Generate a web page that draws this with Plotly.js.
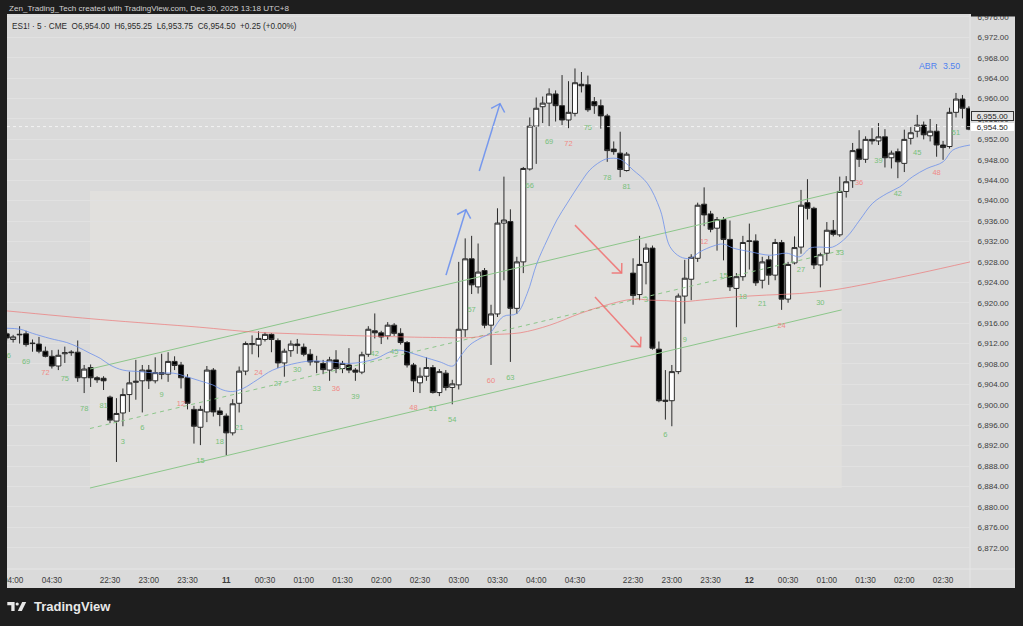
<!DOCTYPE html>
<html><head><meta charset="utf-8">
<script src="https://cdn.plot.ly/plotly-3.0.1.min.js"></script>
<style>html,body{margin:0;padding:0;background:#1e1e1e;overflow:hidden}#chart{width:1023px;height:626px}</style>
</head><body><div id="chart"></div>
<script>
// ---------- DATA (ES1! 5-minute bars, RTH sessions, UTC+8) ----------
// first bar in the arrays is 03:55 of the prior session (bar index -16)
const firstBar = -16;
const openP = [
 6913.9,6912.8,6913.7,6913.9,6912.1,6911.9,6910.5,6909.5,6907.6,6910.0,6910.2,6910.3,6905.3,6907.3,6905.3,6905.2,
 6901.5,6896.8,6898.4,6902.0,6904.4,6904.7,6906.8,6904.7,6906.3,6906.0,
 6908.5,6907.8,6905.3,6899.1,6895.6,6898.6,6906.8,6898.8,6897.8,6894.5,
 6900.3,6906.6,6911.8,6911.7,6912.8,6913.8,6912.6,6908.2,6910.6,6911.9,
 6911.3,6909.9,6908.5,6908.1,6906.8,6908.8,6907.1,6907.8,6906.8,6906.4,
 6909.9,6914.5,6914.1,6913.5,6915.6,6914.0,6912.2,6907.8,6904.3,6905.6,
 6907.3,6902.4,6906.2,6903.4,6903.9,6914.7,6928.6,6923.1,6926.3,6915.6,
 6917.8,6935.6,6935.9,6918.9,6928.0,6946.2,6954.6,6958.4,6959.1,6960.9,
 6958.6,6955.8,6957.1,6962.8,6962.7,6959.4,6958.6,6956.6,6950.1,6949.3,
 6945.9,
 6925.8,6921.6,6927.9,6930.7,6910.9,6900.9,6900.8,6906.5,6921.3,6924.6,
 6928.7,6939.3,6937.4,6934.6,6936.3,6932.4,6922.8,6925.1,6932.0,6932.1,
 6924.4,6928.4,6925.4,6931.8,6920.7,6927.8,6930.9,6939.6,6938.5,6927.4,
 6929.7,6934.2,6933.3,6941.8,6943.9,6950.1,6948.1,6952.0,6951.7,6952.5,
 6948.4,6949.6,6947.3,6952.2,6953.6,6954.8,6952.7,6953.6,6950.9,6950.6,
 6957.3,6959.9,6958.1,6954.0];
const highP = [
 6914.3,6913.7,6915.4,6914.5,6912.8,6913.3,6911.4,6910.7,6910.8,6911.4,6910.7,6912.6,6907.8,6907.9,6905.6,6905.6,
 6901.8,6901.3,6903.2,6906.5,6908.8,6907.8,6907.8,6909.3,6910.0,6910.3,
 6909.5,6908.4,6906.0,6899.8,6899.8,6907.6,6907.2,6899.5,6898.3,6901.1,
 6907.5,6912.4,6913.6,6914.4,6914.2,6914.0,6913.0,6911.0,6912.6,6912.9,
 6912.0,6910.9,6909.6,6908.8,6909.4,6910.7,6908.6,6911.1,6907.2,6910.4,
 6915.4,6917.9,6914.5,6916.2,6916.0,6915.0,6912.5,6908.2,6907.3,6909.3,
 6907.8,6907.0,6906.8,6904.9,6928.0,6932.6,6933.1,6931.6,6926.8,6919.6,
 6938.5,6944.7,6938.3,6929.0,6946.6,6956.3,6960.2,6960.4,6962.0,6961.6,
 6964.6,6963.4,6965.9,6965.2,6964.5,6960.3,6959.8,6957.0,6951.6,6953.5,
 6949.5,
 6928.7,6933.1,6931.6,6931.2,6912.4,6906.8,6907.8,6921.8,6928.4,6929.5,
 6939.6,6942.6,6938.0,6936.8,6936.8,6936.1,6925.8,6933.1,6935.5,6933.4,
 6929.0,6929.2,6932.5,6932.3,6928.0,6933.0,6942.1,6944.2,6938.8,6929.8,
 6935.8,6936.2,6944.7,6944.8,6951.3,6953.8,6952.6,6954.2,6955.2,6954.0,
 6949.8,6950.2,6953.9,6954.4,6956.8,6955.5,6956.0,6955.0,6951.7,6958.2,
 6961.1,6960.7,6958.5,6955.25];
const lowP = [
 6912.6,6912.2,6912.0,6911.4,6910.4,6910.1,6909.3,6907.1,6906.8,6908.2,6909.6,6904.5,6902.3,6903.5,6904.3,6902.9,
 6896.4,6888.8,6895.8,6898.6,6901.0,6898.5,6903.1,6904.2,6905.0,6904.5,
 6906.8,6903.2,6899.1,6892.4,6892.1,6896.6,6897.7,6895.8,6890.1,6894.0,
 6898.5,6905.8,6909.9,6909.3,6912.4,6910.3,6907.2,6905.5,6909.4,6910.0,
 6909.5,6907.7,6906.2,6906.0,6904.7,6906.2,6906.2,6906.2,6904.7,6906.0,
 6909.4,6913.0,6911.9,6912.8,6913.5,6911.8,6907.3,6902.5,6902.3,6904.7,
 6902.2,6901.7,6902.8,6900.1,6903.0,6913.3,6921.7,6921.8,6915.0,6907.8,
 6917.2,6924.4,6908.4,6917.8,6925.8,6945.9,6947.2,6955.2,6954.5,6955.5,
 6954.8,6954.2,6956.5,6961.2,6957.4,6957.0,6954.1,6947.6,6949.0,6944.6,
 6945.7,
 6919.6,6920.5,6923.6,6910.8,6900.5,6897.1,6895.8,6906.0,6915.9,6920.5,
 6928.0,6935.0,6933.8,6930.2,6928.3,6922.3,6915.2,6924.3,6926.5,6923.3,
 6922.8,6923.5,6924.4,6918.6,6920.0,6927.5,6929.6,6936.3,6926.6,6923.0,
 6928.2,6933.0,6932.9,6940.6,6942.5,6946.6,6947.4,6951.0,6950.9,6946.5,
 6946.3,6944.4,6945.6,6951.0,6952.4,6952.0,6951.6,6948.6,6948.0,6950.2,
 6956.3,6956.1,6953.8,6953.75];
const closeP = [
 6913.1,6913.3,6913.8,6911.8,6912.0,6910.5,6909.5,6907.6,6909.7,6910.2,6910.3,6905.3,6907.0,6905.3,6904.9,6904.7,
 6897.0,6898.3,6902.0,6904.3,6904.6,6906.8,6904.7,6906.3,6906.0,6908.5,
 6907.7,6905.3,6900.3,6895.8,6899.1,6906.8,6898.6,6898.1,6894.5,6900.2,
 6906.6,6912.0,6912.0,6913.0,6913.8,6912.8,6908.2,6910.5,6911.9,6911.6,
 6909.9,6908.4,6908.4,6906.9,6908.8,6907.1,6908.1,6906.8,6906.4,6909.8,
 6914.8,6914.1,6913.3,6915.6,6914.0,6912.2,6907.8,6904.7,6905.6,6907.3,
 6902.4,6906.5,6903.4,6904.1,6914.8,6928.6,6923.5,6926.0,6915.6,6917.8,
 6935.6,6936.2,6918.9,6928.0,6946.3,6954.6,6958.1,6959.1,6960.9,6958.6,
 6955.8,6957.3,6963.1,6962.5,6957.8,6958.6,6956.6,6949.8,6949.6,6946.1,
 6949.1,
 6921.4,6927.5,6930.7,6911.1,6900.8,6900.7,6906.5,6921.3,6924.8,6928.9,
 6939.1,6937.2,6934.4,6936.3,6932.4,6923.1,6925.1,6931.8,6932.1,6923.9,
 6928.0,6925.4,6931.8,6920.7,6927.5,6930.8,6939.1,6938.5,6927.4,6929.4,
 6934.2,6933.4,6941.8,6943.7,6949.8,6948.1,6952.0,6951.7,6952.5,6948.4,
 6949.3,6947.6,6952.0,6953.3,6954.8,6952.9,6953.6,6950.9,6950.4,6957.3,
 6959.9,6958.1,6954.0,6954.5];

// bar-number labels (bar index, text)
const labelBar  = [-16,-13,-10,-7,-4,-1,
 2,5,8,11,14,17,20,23,26,29,32,35,38,41,44,47,50,53,56,59,62,65,68,71,74,77,80,
 83,86,89,92,95,98,101,104,107,110,113,116,119,122,125,128,131];
const labelText = ['66','69','72','75','78','81',
 '3','6','9','12','15','18','21','24','27','30','33','36','39','42','45','48','51','54','57','60','63','66','69','72','75','78','81',
 '3','6','9','12','15','18','21','24','27','30','33','36','39','42','45','48','51'];

// blue moving average (bar index, price)
const emaIdx = [-16,-13.9,-12,-9.3,-6.7,-5.1,-3.1,-1.5,0,2,4.6,7.3,9.8,11.9,13.9,15.9,17.5,19,20.6,22.8,25.2,29,31.4,34.1,36.7,39.2,41.3,43.4,44.9,46,48.5,51.1,53.1,54.2,55.7,57.3,58.8,60.9,63,64.6,66.1,67.7,69.2,70.8,72.8,74.3,75.9,77,79,81,83.2,85.2,86.7,88.3,89.8,91.4,93.4,94.9,96.5,99.1,102.2,104.8,106.8,108.4,109.9,111.9,114.1,116.1,118.1,120.3,122.3,124.3,126.5,129,130.5,133.2];
const emaVal = [6915.0,6914.8,6914.0,6913.0,6912.2,6911.4,6910.1,6909.1,6907.8,6906.8,6906.5,6906.2,6906.2,6905.5,6904.7,6903.9,6902.9,6902.6,6903.2,6904.9,6906.8,6908.2,6908.6,6908.4,6908.1,6908.4,6909.1,6910.4,6910.7,6910.4,6909.4,6908.4,6907.6,6909.4,6911.7,6913.0,6914.0,6917.3,6917.9,6921.8,6927.7,6932.3,6936.2,6939.5,6943.4,6946.0,6947.6,6948.2,6948.1,6946.0,6943.4,6938.2,6931.0,6929.0,6928.7,6930.0,6931.1,6931.5,6930.7,6930.0,6929.3,6929.7,6929.0,6930.7,6930.9,6930.9,6932.9,6936.2,6939.5,6941.4,6942.7,6944.7,6946.3,6947.6,6949.9,6950.9];

// red slow average (bar index, price)
const redIdx = [-16,-1.5,13.9,21.7,29,39.2,49.6,56.2,58.8,63.5,68.1,72.8,77,81,83.6,86.2,88.7,91.4,96.5,101.7,106.8,112,117.7,125.4,133.2];
const redVal = [6918.4,6916.7,6915.2,6914.3,6913.9,6913.5,6913.2,6913.2,6913.7,6914.1,6915.6,6917.9,6919.6,6920.7,6920.5,6920.4,6920.2,6920.5,6921.1,6921.5,6921.8,6922.5,6923.8,6925.8,6928.0];

// parallel channel (start/end bar index, prices)
const chanIdx   = [-3.1, 113.3];
const chanUpper = [6907.0, 6941.9];
const chanMid   = [6895.35, 6930.25];
const chanLower = [6883.7, 6918.6];

// drawn arrows [x0, y0, x1, y1]
const blueArrows = [[52.03,6925.4,55.12,6938.2],[57.18,6945.8,60.39,6959.0]];
const redArrows  = [[72.0,6935.2,79.23,6925.8],[75.1,6921.1,82.15,6911.4]];

// time axis
const tickIdx  = [-15,-9,0,6,12,18,24,30,36,42,48,54,60,66,72,81,87,93,99,105,111,117,123,129];
const tickText = ['04:00','04:30','22:30','23:00','23:30','<b>11</b>','00:30','01:00','01:30','02:00','02:30','03:00','03:30','04:00','04:30','22:30','23:00','23:30','<b>12</b>','00:30','01:00','01:30','02:00','02:30'];

const lastPrice = 6954.5;

// ---------- LAYOUT GEOMETRY ----------
const W=1023, H=626, L=7, R=970, T=14, B=569;
const xRange=[-15.95,133.17], yRange=[6867.83,6976.565];
const pxX=(R-L)/(xRange[1]-xRange[0]), pxY=(B-T)/(yRange[1]-yRange[0]);
const px=(v)=>(v-L)/(R-L), py=(v)=>(B-v)/(B-T);
const FONT='Liberation Sans, Arial, sans-serif';

const xs = openP.map((_,k)=>firstBar+k);

const traces = [];
// candles
traces.push({type:'candlestick',x:xs,open:openP,high:highP,low:lowP,close:closeP,
  increasing:{fillcolor:'#ffffff',line:{color:'#2a2a2a',width:1}},
  decreasing:{fillcolor:'#000000',line:{color:'#2a2a2a',width:1}},
  whiskerwidth:0,hoverinfo:'skip'});
traces.push({type:'scatter',mode:'lines',x:chanIdx,y:chanUpper,line:{color:'#8cc68a',width:1},hoverinfo:'skip'});
traces.push({type:'scatter',mode:'lines',x:chanIdx,y:chanLower,line:{color:'#8cc68a',width:1},hoverinfo:'skip'});
traces.push({type:'scatter',mode:'lines',x:chanIdx,y:chanMid,line:{color:'#8cc68a',width:1,dash:'4px,4px'},hoverinfo:'skip'});
traces.push({type:'scatter',mode:'lines',x:redIdx,y:redVal,line:{color:'rgba(236,120,120,0.7)',width:1,shape:'spline'},hoverinfo:'skip'});
traces.push({type:'scatter',mode:'lines',x:emaIdx,y:emaVal,line:{color:'rgba(110,145,235,0.8)',width:1,shape:'spline'},hoverinfo:'skip'});
// bar-number labels
const lowAt=(b)=>lowP[b-firstBar];
traces.push({type:'scatter',mode:'text',x:labelBar,y:labelBar.map(b=>lowAt(b)-16/pxY),
  text:labelText,textposition:'middle center',cliponaxis:true,
  textfont:{family:FONT,size:7.5,color:labelText.map(t=>(+t)%12===0?'#f08a86':'#78c07a')},hoverinfo:'skip'});
// arrows
function arrow(a,color){
  const [x0,y0,x1,y1]=a;
  const dx=(x1-x0)*pxX, dy=-(y1-y0)*pxY, len=Math.hypot(dx,dy), ux=dx/len, uy=dy/len;
  const hl=10, ang=Math.PI/4;
  const barb=(s)=>{const c=Math.cos(s*ang),sn=Math.sin(s*ang);
    const bx=-(ux*c-uy*sn)*hl, by=-(ux*sn+uy*c)*hl; return [x1+bx/pxX, y1-by/pxY];};
  const b1=barb(1), b2=barb(-1);
  return {type:'scatter',mode:'lines',x:[x0,x1,null,b1[0],x1,b2[0]],y:[y0,y1,null,b1[1],y1,b2[1]],
    line:{color,width:1.5},hoverinfo:'skip'};
}
blueArrows.forEach(a=>traces.push(arrow(a,'rgba(100,140,240,0.85)')));
redArrows.forEach(a=>traces.push(arrow(a,'rgba(240,110,110,0.85)')));

const yTicks=[]; for(let v=6872; v<=6976; v+=4) yTicks.push(v);

const shapes=[
  // channel background (behind candles)
  {type:'rect',xref:'x',yref:'y',x0:chanIdx[0],x1:chanIdx[1],y0:chanLower[0],y1:chanUpper[1],
   fillcolor:'rgba(238,236,228,0.32)',line:{width:0},layer:'below'},
  // axis strips
  {type:'rect',xref:'paper',yref:'paper',x0:px(R),x1:px(1015),y0:py(588),y1:py(T),fillcolor:'#dadada',line:{width:0},layer:'below'},
  {type:'rect',xref:'paper',yref:'paper',x0:px(L),x1:px(1015),y0:py(588),y1:py(B),fillcolor:'#dadada',line:{width:0},layer:'below'},
  {type:'line',xref:'paper',yref:'paper',x0:px(R),x1:px(R),y0:py(588),y1:py(T),line:{color:'#e6e6e6',width:1},layer:'below'},
  {type:'line',xref:'paper',yref:'paper',x0:px(L),x1:px(1015),y0:py(B),y1:py(B),line:{color:'#e6e6e6',width:1},layer:'below'},
  // last price dotted line
  {type:'line',xref:'paper',yref:'y',x0:0,x1:1,y0:lastPrice,y1:lastPrice,line:{color:'rgba(255,255,255,0.7)',width:1,dash:'dot'},layer:'above'},
  // dark frame
  {type:'rect',xref:'paper',yref:'paper',x0:px(0),x1:px(W),y0:py(T),y1:py(0),fillcolor:'#1e1e1e',line:{width:0},layer:'above'},
  {type:'rect',xref:'paper',yref:'paper',x0:px(R+1),x1:px(1015),y0:py(16.5),y1:py(T),fillcolor:'#1e1e1e',line:{width:0},layer:'above'},
  {type:'rect',xref:'paper',yref:'paper',x0:px(0),x1:px(L),y0:py(H),y1:py(0),fillcolor:'#1e1e1e',line:{width:0},layer:'above'},
  // TradingView logo
  {type:'path',xref:'paper',yref:'paper',path:`M${px(7.3)},${py(602)} L${px(14.6)},${py(602)} L${px(14.6)},${py(611)} L${px(11.3)},${py(611)} L${px(11.3)},${py(605.3)} L${px(7.3)},${py(605.3)} Z`,fillcolor:'#e8e8e8',line:{width:0},layer:'above'},
  {type:'circle',xref:'paper',yref:'paper',x0:px(15.6),x1:px(18.8),y0:py(605.6),y1:py(602.4),fillcolor:'#e8e8e8',line:{width:0},layer:'above'},
  {type:'path',xref:'paper',yref:'paper',path:`M${px(22.2)},${py(602)} L${px(26.2)},${py(602)} L${px(21.8)},${py(611)} L${px(17.8)},${py(611)} Z`,fillcolor:'#e8e8e8',line:{width:0},layer:'above'}
];

const annotations=[
  {xref:'paper',yref:'paper',x:px(7),y:py(8.5),xanchor:'left',yanchor:'middle',showarrow:false,
   text:'Zen_Trading_Tech created with TradingView.com, Dec 30, 2025 13:18 UTC+8',font:{family:FONT,size:8.1,color:'#d2d2d2'}},
  {xref:'paper',yref:'paper',x:px(10),y:py(27),xanchor:'left',yanchor:'middle',showarrow:false,
   text:'ES1! · 5 · CME\u00a0\u00a0O6,954.00\u00a0\u00a0H6,955.25\u00a0\u00a0L6,953.75\u00a0\u00a0C6,954.50\u00a0\u00a0+0.25 (+0.00%)',font:{family:FONT,size:8.2,color:'#2a2a2a'}},
  {xref:'paper',yref:'paper',x:px(917),y:py(66),xanchor:'left',yanchor:'middle',showarrow:false,
   text:'ABR',font:{family:FONT,size:8.8,color:'#4f82ef'}},
  {xref:'paper',yref:'paper',x:px(941),y:py(66),xanchor:'left',yanchor:'middle',showarrow:false,
   text:'3.50',font:{family:FONT,size:8.8,color:'#4f82ef'}},
  {xref:'paper',yref:'y',x:px(992),y:lastPrice,yshift:11,xanchor:'center',yanchor:'middle',showarrow:false,
   text:'6,955.00',font:{family:FONT,size:8,color:'#222'},bgcolor:'#e2e2e2',bordercolor:'#333',borderwidth:1,borderpad:0,width:41,height:8},
  {xref:'paper',yref:'y',x:px(992),y:lastPrice,yshift:-0.5,xanchor:'center',yanchor:'middle',showarrow:false,
   text:'6,954.50',font:{family:FONT,size:8,color:'#222'},bgcolor:'#ffffff',borderwidth:0,borderpad:0,width:43,height:8},
  {xref:'paper',yref:'paper',x:px(32),y:py(606.5),xanchor:'left',yanchor:'middle',showarrow:false,
   text:'<b>TradingView</b>',font:{family:FONT,size:13,color:'#e8e8e8'}}
];

const layout={
  width:W,height:H,margin:{l:L,r:W-R,t:T,b:H-B,pad:0},
  paper_bgcolor:'#1e1e1e',plot_bgcolor:'#dadada',showlegend:false,
  boxgap:0.12,boxgroupgap:0.12,
  xaxis:{range:xRange,tickmode:'array',tickvals:tickIdx,ticktext:tickText,showgrid:false,zeroline:false,
    ticks:'outside',ticklen:3,tickcolor:'rgba(0,0,0,0)',tickfont:{family:FONT,size:8.2,color:'#3c3c3c'},
    showline:false,rangeslider:{visible:false},fixedrange:true,tickangle:0},
  yaxis:{side:'right',range:yRange,tickmode:'array',tickvals:yTicks,tickformat:',.2f',showgrid:true,gridcolor:'#e1e1e1',gridwidth:1,
    zeroline:false,ticks:'outside',ticklen:5,tickcolor:'rgba(0,0,0,0)',tickfont:{family:FONT,size:8,color:'#3c3c3c'},
    showline:false,fixedrange:true},
  shapes,annotations
};
Plotly.newPlot('chart',traces,layout,{displayModeBar:false,staticPlot:true});
</script></body></html>
